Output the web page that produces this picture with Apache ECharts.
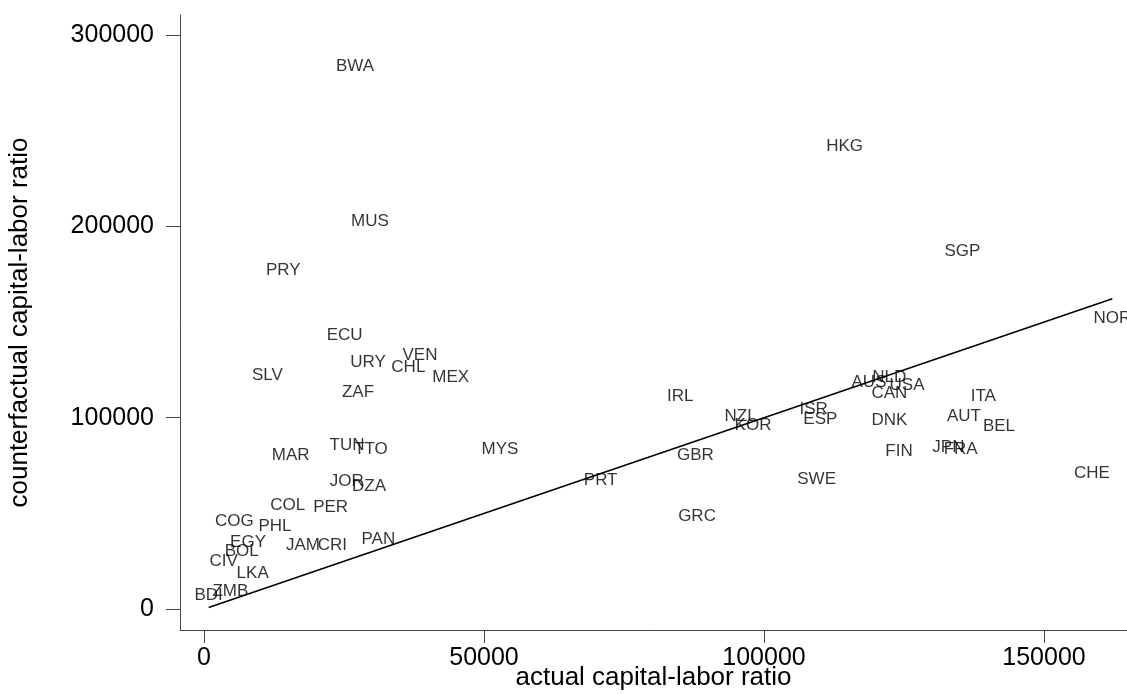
<!DOCTYPE html>
<html>
<head>
<meta charset="utf-8">
<script src="https://cdn.jsdelivr.net/npm/echarts@6/dist/echarts.min.js"></script>
<style>
html,body{margin:0;padding:0;background:#fff;overflow:hidden;}
#c{width:1127px;height:694px;}
</style>
</head>
<body>
<div id="c"></div>
<script>
// Country codes and values
var codes = ["BWA","HKG","MUS","SGP","PRY","NOR","ECU","VEN","URY","CHL","SLV","MEX","AUS","NLD","USA","CAN","ZAF","IRL","ITA","ISR","NZL","AUT","ESP","DNK","KOR","BEL","TUN","JPN","FRA","TTO","MYS","FIN","MAR","GBR","CHE","PRT","SWE","JOR","DZA","COL","PER","GRC","COG","PHL","PAN","EGY","JAM","CRI","BOL","CIV","LKA","ZMB","BDI"];
var actualKL = [26960,114400,29640,135420,14170,162200,25120,38570,29290,36490,11310,44050,118750,122380,125540,122380,27500,85060,139170,108870,95830,135710,110060,122380,98040,141960,25540,132920,135120,29820,52860,124110,15480,87740,158570,70830,109400,25480,29460,14940,22620,88040,5420,12680,31130,7860,17680,22920,6730,3510,8690,4700,830];
var counterfactualKL = [283480,242030,202460,186780,177210,151960,143230,132780,128960,126150,121960,120910,118500,121120,117090,112750,113430,111340,110980,104380,100890,100890,99160,98800,95820,95300,85370,84520,83480,83640,83470,82230,80130,80500,70940,67420,67800,66550,63930,54000,52950,48250,46000,43020,36430,34660,33090,33090,30320,24730,18660,9410,6960];
var xTicks = [0,50000,100000,150000];
var yTicks = [0,100000,200000,300000];

var pts = codes.map(function(c,i){ return [actualKL[i], counterfactualKL[i], c]; });
var lo = Math.min.apply(null, actualKL), hi = Math.max.apply(null, actualKL);
var diag = [[lo,lo],[hi,hi]];

var FONT = '"Liberation Sans", Arial, Helvetica, sans-serif';
var axisCol = '#444';
var el = document.getElementById('c');
var chart = echarts.init(el, null, {renderer:'canvas'});
chart.setOption({
  animation:false,
  backgroundColor:'#fff',
  grid:{left:180,right:0,top:15,bottom:64,containLabel:false,outerBoundsMode:'none'},
  xAxis:{
    type:'value', min:-4286, max:164821,
    name:'actual capital-labor ratio', nameLocation:'middle', nameGap:35, nameMoveOverlap:false,
    nameTextStyle:{fontFamily:FONT,fontSize:26,color:'#000',verticalAlign:'top'},
    axisLine:{show:true,onZero:false,lineStyle:{color:axisCol,width:1}},
    axisTick:{show:true,length:13,customValues:xTicks,lineStyle:{color:axisCol}},
    axisLabel:{customValues:xTicks,margin:16,fontFamily:FONT,fontSize:25,color:'#000',formatter:function(v){return String(v);}},
    splitLine:{show:false}
  },
  yAxis:{
    type:'value', min:-10976, max:310450,
    name:'counterfactual capital-labor ratio', nameLocation:'middle', nameGap:147, nameMoveOverlap:false,
    nameTextStyle:{fontFamily:FONT,fontSize:26,color:'#000'},
    axisLine:{show:true,onZero:false,lineStyle:{color:axisCol,width:1}},
    axisTick:{show:true,length:14,customValues:yTicks,lineStyle:{color:axisCol}},
    axisLabel:{customValues:yTicks,margin:26,fontFamily:FONT,fontSize:25,color:'#000',formatter:function(v){return String(v);}},
    splitLine:{show:false}
  },
  series:[
    {
      type:'line', data:diag, symbol:'none', silent:true,
      lineStyle:{color:'#000',width:1.6}, z:3
    },
    {
      type:'scatter', data:pts, symbol:'circle', symbolSize:1,
      itemStyle:{color:'rgba(0,0,0,0)'},
      label:{show:true,position:'inside',formatter:function(p){return p.data[2];},
        fontFamily:FONT,fontSize:17,color:'#000'},
      labelLayout:{hideOverlap:false},
      z:2
    }
  ]
});
</script>
</body>
</html>
